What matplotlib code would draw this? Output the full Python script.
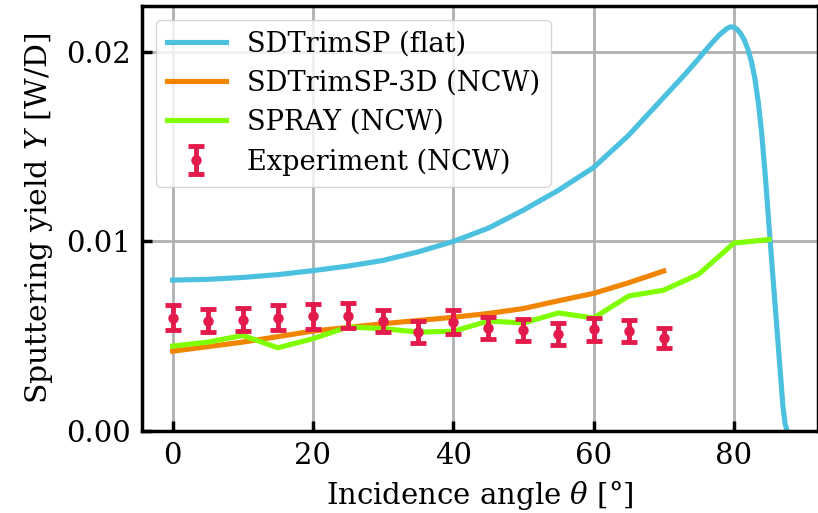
import numpy as np
import matplotlib
matplotlib.use("Agg")
import matplotlib.pyplot as plt

# SDTrimSP (flat)
ang_flat = [0, 5, 10, 15, 20, 25, 30, 35, 40, 45, 50, 55, 60, 65, 70, 73,
            75, 76, 77, 78, 79, 79.5, 80, 80.5, 81, 81.5, 82, 82.5, 83, 83.5,
            84, 84.5, 85, 85.5, 86, 86.5, 87, 87.3, 87.6]
y_flat = [0.00796, 0.00800, 0.00810, 0.00825, 0.00846, 0.00870, 0.00900,
          0.00945, 0.01000, 0.01070, 0.01165, 0.01270, 0.01390, 0.01560,
          0.01760, 0.01880, 0.01965, 0.02010, 0.02052, 0.02092, 0.02122,
          0.02132, 0.02130, 0.02118, 0.02095, 0.02062, 0.02015, 0.01950,
          0.01860, 0.01730, 0.01560, 0.01340, 0.01090, 0.00850, 0.00610,
          0.00370, 0.00130, 0.00040, 0.0]

# SDTrimSP-3D (NCW)
ang_3d = [0, 10, 20, 30, 40, 45, 50, 55, 60, 65, 70]
y_3d = [0.00421, 0.00469, 0.00527, 0.00566, 0.00600, 0.00620, 0.00646,
        0.00687, 0.00726, 0.00782, 0.00844]

# SPRAY (NCW)
ang_spray = [0, 5, 10, 15, 20, 25, 30, 35, 40, 45, 50, 55, 60, 65, 70, 75, 80, 85]
y_spray = [0.00448, 0.00469, 0.00504, 0.00439, 0.00487, 0.00549, 0.00540,
           0.00522, 0.00526, 0.00580, 0.00570, 0.00623, 0.00596, 0.00712,
           0.00743, 0.00827, 0.00991, 0.01010]

# Experiment (NCW)
ang_exp = [0, 5, 10, 15, 20, 25, 30, 35, 40, 45, 50, 55, 60, 65, 70]
y_exp = [0.00598, 0.00582, 0.00588, 0.00598, 0.00605, 0.00609, 0.00580,
         0.00522, 0.00575, 0.00545, 0.00531, 0.00510, 0.00536, 0.00526, 0.00490]
err_exp = [0.00066, 0.00062, 0.00062, 0.00066, 0.00067, 0.00068, 0.00060,
           0.00058, 0.00062, 0.00059, 0.00058, 0.00058, 0.00062, 0.00058, 0.00053]

plt.rcParams['font.family'] = 'DejaVu Serif'
plt.rcParams['mathtext.fontset'] = 'dejavuserif'
fs = 21
fs_leg = 19.6

fig = plt.figure(figsize=(8.18, 5.13), dpi=100)
ax = fig.add_axes([142 / 818, 82 / 513, 676 / 818, 425 / 513])

ax.plot(ang_flat, y_flat, color='#4bc0df', lw=3.7, label='SDTrimSP (flat)')
ax.plot(ang_3d, y_3d, color='#f28500', lw=3.7, label='SDTrimSP-3D (NCW)')
ax.plot(ang_spray, y_spray, color='#80ff00', lw=3.7, label='SPRAY (NCW)')
ax.errorbar(ang_exp, y_exp, yerr=err_exp, fmt='o', color='#e31b4c',
            ms=6.5, elinewidth=3.5, capsize=5.5, capthick=3.5,
            label='Experiment (NCW)', zorder=5)

ax.set_xlim(-4.375, 92)
ax.set_ylim(0, 0.02242)
ax.set_xticks([0, 20, 40, 60, 80])
ax.set_yticks([0, 0.01, 0.02])
ax.set_yticklabels(['0.00', '0.01', '0.02'])
ax.grid(True, color='#b0b0b0', lw=2)
ax.set_axisbelow(True)
ax.tick_params(direction='in', length=7, width=2.5, labelsize=fs, pad=8)
for s in ax.spines.values():
    s.set_linewidth(2.5)

ax.set_xlabel(r'Incidence angle $\theta$ [°]', fontsize=fs, labelpad=6)
ax.set_ylabel(r'Sputtering yield $Y$ [W/D]', fontsize=21.5, labelpad=8)
ax.legend(loc='upper left', fontsize=fs_leg, handlelength=2.2,
          handletextpad=0.75, borderaxespad=0.5, labelspacing=0.45,
          framealpha=0.8)

fig.savefig('out.png', dpi=100)
